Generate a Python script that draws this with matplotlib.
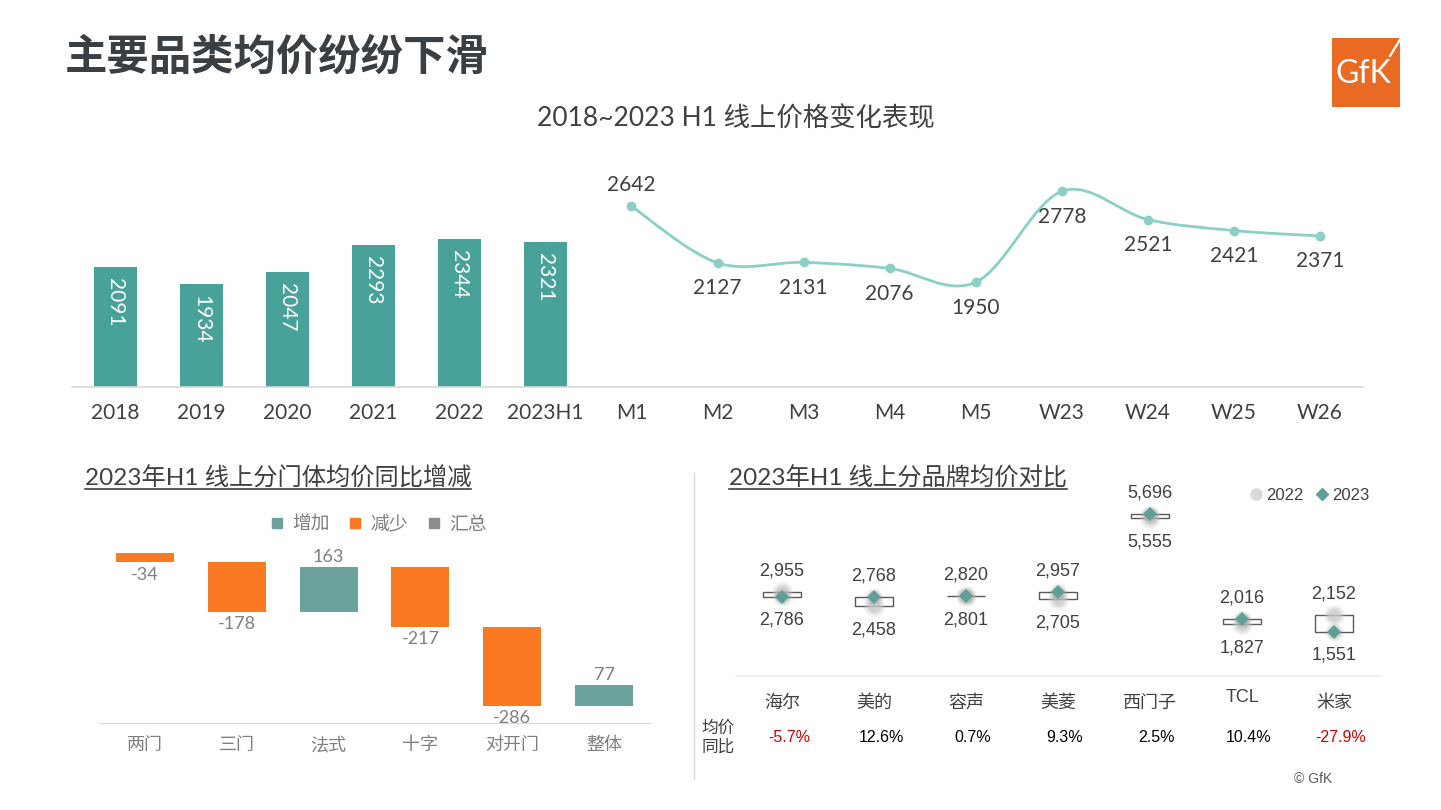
import numpy as np
import matplotlib
matplotlib.use("Agg")
import matplotlib.pyplot as plt
import matplotlib.transforms as mtransforms
from matplotlib.path import Path
from matplotlib.patches import PathPatch, Rectangle
from matplotlib.lines import Line2D

plt.rcParams['font.family'] = ['Lato', 'Noto Sans CJK SC', 'DejaVu Sans']

# ---------------- data ----------------
bar_cats = ['2018', '2019', '2020', '2021', '2022', '2023H1']
bar_vals = [2091, 1934, 2047, 2293, 2344, 2321]
line_cats = ['M1', 'M2', 'M3', 'M4', 'M5', 'W23', 'W24', 'W25', 'W26']
line_vals = [2642, 2127, 2131, 2076, 1950, 2778, 2521, 2421, 2371]

wf_cats = ['两门', '三门', '法式', '十字', '对开门', '整体']
wf_vals = [-34, -178, 163, -217, -286, 77]

brands = ['海尔', '美的', '容声', '美菱', '西门子', 'TCL', '米家']
price_2022 = [2955, 2458, 2801, 2705, 5555, 1827, 2152]
price_2023 = [2786, 2768, 2820, 2957, 5696, 2016, 1551]
yoy_labels = ['-5.7%', '12.6%', '0.7%', '9.3%', '2.5%', '10.4%', '-27.9%']

W, H = 1441, 810
fig = plt.figure(figsize=(W / 100, H / 100), dpi=100)
fig.patch.set_facecolor('white')

def fx(x):
    return x / W

def fy(y):
    return 1 - y / H

TXT = '#404040'
GRID = '#D9D9D9'

# ---------------- headline & logo ----------------
fig.text(fx(65), fy(58), '主要品类均价纷纷下滑', fontsize=30.5, fontweight='bold',
         color='#3A3F44', va='center', ha='left', family=['Noto Sans CJK SC'])
fig.patches.append(Rectangle((fx(1332), fy(107)), fx(68), (107 - 38) / H,
                             transform=fig.transFigure, facecolor='#EA6A23',
                             edgecolor='none'))
fig.text(fx(1363), fy(74), 'GfK', fontsize=23, color='white', ha='center',
         va='center', family=['Lato'])
fig.lines.append(Line2D([fx(1401), fx(1390)], [fy(38), fy(56)], transform=fig.transFigure,
                        color='white', lw=1.6))

# ---------------- top combined chart ----------------
fig.text(fx(736), fy(119), '2018~2023 H1 线上价格变化表现', fontsize=19, color=TXT,
         ha='center', va='center')
ax1 = fig.add_axes([fx(72), fy(386.5), (1363 - 72) / W, (386.5 - 167) / H])
nb = len(bar_vals)
xb = np.arange(nb)
xl = np.arange(nb, nb + len(line_vals))
ax1.bar(xb, bar_vals, width=0.5, color='#48A299', zorder=2)
for x, v in zip(xb, bar_vals):
    ax1.annotate(str(v), (x, v), xytext=(0, -8), textcoords='offset points',
                 rotation=270, ha='center', va='top', color='white', fontsize=15)

# smooth line (Catmull-Rom style bezier through the data points)
pts = np.column_stack([xl, line_vals]).astype(float)
n = len(pts)
verts = [tuple(pts[0])]
codes = [Path.MOVETO]
for i in range(n - 1):
    p0 = pts[max(i - 1, 0)]
    p1 = pts[i]
    p2 = pts[i + 1]
    p3 = pts[min(i + 2, n - 1)]
    c1 = p1 + (p2 - p0) / 6.0
    c2 = p2 - (p3 - p1) / 6.0
    verts += [tuple(c1), tuple(c2), tuple(p2)]
    codes += [Path.CURVE4] * 3
LINEC = '#8CCFC5'
ax1.add_patch(PathPatch(Path(verts, codes), facecolor='none', edgecolor=LINEC,
                        lw=2.0, zorder=3))
ax1.plot(xl, line_vals, 'o', color=LINEC, markersize=6, zorder=4)
for i, (x, v) in enumerate(zip(xl, line_vals)):
    if i == 0:
        ax1.annotate(str(v), (x, v), xytext=(0, 8), textcoords='offset points',
                     ha='center', va='bottom', color=TXT, fontsize=15)
    else:
        ax1.annotate(str(v), (x, v), xytext=(0, -11), textcoords='offset points',
                     ha='center', va='top', color=TXT, fontsize=15)

ax1.set_xlim(-0.5, nb + len(line_vals) - 0.5)
ax1.set_ylim(1000, 3000)
ax1.set_xticks(np.arange(nb + len(line_vals)))
ax1.set_xticklabels(bar_cats + line_cats, fontsize=15, color=TXT)
ax1.tick_params(axis='x', length=0, pad=12)
ax1.set_yticks([])
for s in ['top', 'right', 'left']:
    ax1.spines[s].set_visible(False)
ax1.spines['bottom'].set_color(GRID)
ax1.spines['bottom'].set_linewidth(1.2)
ax1.patch.set_alpha(0)

# ---------------- waterfall ----------------
t_wf = fig.text(fx(85), fy(478), '2023年H1 线上分门体均价同比增减', fontsize=17.5,
                color=TXT, ha='left', va='center')
ax2 = fig.add_axes([fx(99), fy(722.7), (650 - 99) / W, (722.7 - 540) / H])
INC = '#6BA39C'
DEC = '#F97A22'
TOT = '#8C8C8C'
starts = np.concatenate([[0], np.cumsum(wf_vals)[:-1]])
for i, (s0, v) in enumerate(zip(starts, wf_vals)):
    col = INC if v > 0 else DEC
    ax2.bar(i, abs(v), bottom=min(s0, s0 + v), width=0.63, color=col, zorder=2)
    if v < 0:
        ax2.annotate(str(v), (i, s0 + v), xytext=(0, -3), textcoords='offset points',
                     ha='center', va='top', color='#7F7F7F', fontsize=13)
    else:
        ax2.annotate(str(v), (i, s0 + v), xytext=(0, 1), textcoords='offset points',
                     ha='center', va='bottom', color='#7F7F7F', fontsize=13)
ax2.set_xlim(-0.5, len(wf_vals) - 0.5)
ax2.set_ylim(-612.6, 46.9)
ax2.set_xticks(np.arange(len(wf_cats)))
ax2.set_xticklabels(wf_cats, fontsize=13, color='#7F7F7F')
ax2.tick_params(axis='x', length=0, pad=10)
ax2.set_yticks([])
for s in ['top', 'right', 'left']:
    ax2.spines[s].set_visible(False)
ax2.spines['bottom'].set_color(GRID)
ax2.patch.set_alpha(0)
h_wf = [Line2D([], [], marker='s', ls='none', color=c, markersize=7) for c in (INC, DEC, TOT)]
fig.legend(h_wf, ['增加', '减少', '汇总'], loc='center', bbox_to_anchor=(fx(378), fy(524)),
           ncol=3, frameon=False, fontsize=13.5, labelcolor='#7F7F7F', handlelength=0.8,
           handletextpad=0.4, columnspacing=1.0)

# separator
fig.lines.append(Line2D([fx(694), fx(694)], [fy(473), fy(778)], transform=fig.transFigure,
                        color=GRID, lw=1))

# ---------------- brand chart ----------------
t_br = fig.text(fx(729), fy(478), '2023年H1 线上分品牌均价对比', fontsize=17.5,
                color=TXT, ha='left', va='center')
ax3 = fig.add_axes([fx(736), fy(676), (1380 - 736) / W, (676 - 491) / H])
ARIAL = ['Liberation Sans', 'DejaVu Sans']
xs = np.arange(len(brands))
for i, (a, b) in enumerate(zip(price_2022, price_2023)):
    lo, hi = min(a, b), max(a, b)
    ax3.add_patch(Rectangle((i - 0.205, lo), 0.41, max(hi - lo, 1), facecolor='white',
                            edgecolor='#595959', lw=1.0, zorder=2))
    ax3.annotate(f'{hi:,}', (i, hi), xytext=(0, 15), textcoords='offset points',
                 ha='center', va='center', color=TXT, fontsize=13, family=ARIAL)
    ax3.annotate(f'{lo:,}', (i, lo), xytext=(0, -17), textcoords='offset points',
                 ha='center', va='center', color=TXT, fontsize=13, family=ARIAL)
# soft glow circles for 2022
for ms, al in [(15, 0.25), (12, 0.35), (9, 0.6)]:
    ax3.plot(xs, price_2022, 'o', color='#C8C8C8', markersize=ms, alpha=al,
             markeredgewidth=0, zorder=3)
for ms, al in [(13, 0.12), (10, 0.2)]:
    ax3.plot(xs, price_2023, 'o', color='#808080', markersize=ms, alpha=al,
             markeredgewidth=0, zorder=3)
ax3.plot(xs, price_2023, 'D', color='#5E9F98', markersize=7, markeredgewidth=0, zorder=4)
ax3.set_xlim(-0.5, len(brands) - 0.5)
ax3.set_ylim(0, 6500)
ax3.set_xticks([])
ax3.set_yticks([])
for s in ['top', 'right', 'left']:
    ax3.spines[s].set_visible(False)
ax3.spines['bottom'].set_color('#EDEDED')
ax3.spines['bottom'].set_linewidth(1.2)
ax3.patch.set_alpha(0)
blend = mtransforms.blended_transform_factory(ax3.transData, fig.transFigure)
for i, b in enumerate(brands):
    yy = fy(697) if b == 'TCL' else fy(703)
    ax3.text(i, yy, b, transform=blend, ha='center', va='center', fontsize=13, color=TXT,
             family=(ARIAL if b == 'TCL' else ['Noto Sans CJK SC']))
    lab = yoy_labels[i]
    col = '#D00000' if lab.startswith('-') else '#000000'
    ax3.annotate(lab, (i, fy(738)), xycoords=blend, xytext=(5, 0), textcoords='offset points',
                 ha='center', va='center', fontsize=11.5, color=col, family=ARIAL)
fig.text(fx(718), fy(738), '均价\n同比', fontsize=12, color=TXT, ha='center', va='center',
         linespacing=1.15, family=['Noto Sans CJK SC'])

h_br = [Line2D([], [], marker='o', ls='none', color='#D9D9D9', markersize=8),
        Line2D([], [], marker='D', ls='none', color='#5E9F98', markersize=6)]
fig.legend(h_br, ['2022', '2023'], loc='center', bbox_to_anchor=(fx(1310), fy(495)),
           ncol=2, frameon=False, prop={'family': ARIAL, 'size': 12}, labelcolor=TXT,
           handlelength=0.6, handletextpad=0.3, columnspacing=0.8)

fig.text(fx(1313), fy(779), '© GfK', fontsize=10, color='#595959', ha='center',
         va='center', family=ARIAL)

# underline the sub-titles
fig.canvas.draw()
r = fig.canvas.get_renderer()
inv = fig.transFigure.inverted()
for t in (t_wf, t_br):
    bb = t.get_window_extent(r)
    (x0, y0), (x1, _) = inv.transform([(bb.x0, bb.y0 + 1), (bb.x1, bb.y0 + 1)])
    fig.lines.append(Line2D([x0, x1], [y0, y0], transform=fig.transFigure, color=TXT, lw=1.2))

fig.savefig('out.png', dpi=100)
